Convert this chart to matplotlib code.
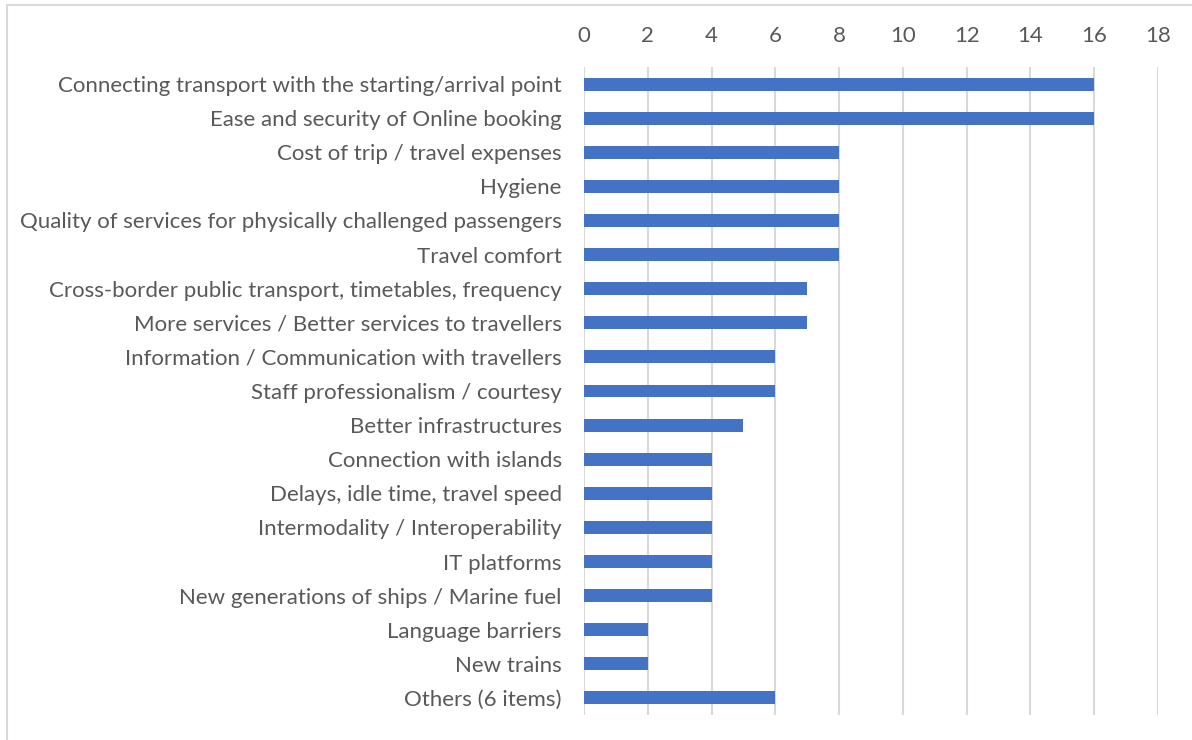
import matplotlib
matplotlib.use("Agg")
import matplotlib.pyplot as plt
from matplotlib.patches import Rectangle

categories = [
    "Connecting transport with the starting/arrival point",
    "Ease and security of Online booking",
    "Cost of trip / travel expenses",
    "Hygiene",
    "Quality of services for physically challenged passengers",
    "Travel comfort",
    "Cross-border public transport, timetables, frequency",
    "More services / Better services to travellers",
    "Information / Communication with travellers",
    "Staff professionalism / courtesy",
    "Better infrastructures",
    "Connection with islands",
    "Delays, idle time, travel speed",
    "Intermodality / Interoperability",
    "IT platforms",
    "New generations of ships / Marine fuel",
    "Language barriers",
    "New trains",
    "Others (6 items)",
]
counts = [16, 16, 8, 8, 8, 8, 7, 7, 6, 6, 5, 4, 4, 4, 4, 4, 2, 2, 6]
ticks = [0, 2, 4, 6, 8, 10, 12, 14, 16, 18]

plt.rcParams['font.family'] = ['Lato', 'DejaVu Sans']
text_col = "#595959"
grid_col = "#d9d9d9"

fig = plt.figure(figsize=(11.92, 7.40), dpi=100)
ax = fig.add_axes([584 / 1192, 1 - 715 / 740, (1158 - 584) / 1192, (715 - 67) / 740])

ypos = list(range(len(categories)))
ax.barh(ypos, counts, height=0.38, color="#4472C4", zorder=3)

ax.set_ylim(len(categories) - 0.5, -0.5)
ax.set_xlim(0, 18)
ax.set_xticks(ticks)
ax.set_xticklabels([str(t) for t in ticks])
ax.xaxis.tick_top()
ax.set_yticks(ypos)
ax.set_yticklabels(categories)

ax.tick_params(axis="x", length=0, pad=15, labelsize=16, labelcolor=text_col)
ax.tick_params(axis="y", length=0, pad=16, labelsize=16, labelcolor=text_col)

ax.grid(axis="x", color=grid_col, linewidth=1.5, zorder=0)
for s in ax.spines.values():
    s.set_visible(False)

# outer chart frame
fig.add_artist(Rectangle((7 / 1192, -0.1), 1.2, 1 - 5 / 740 + 0.1,
                         transform=fig.transFigure, fill=False,
                         edgecolor=grid_col, linewidth=1.5))

fig.savefig("out.png", dpi=100)
